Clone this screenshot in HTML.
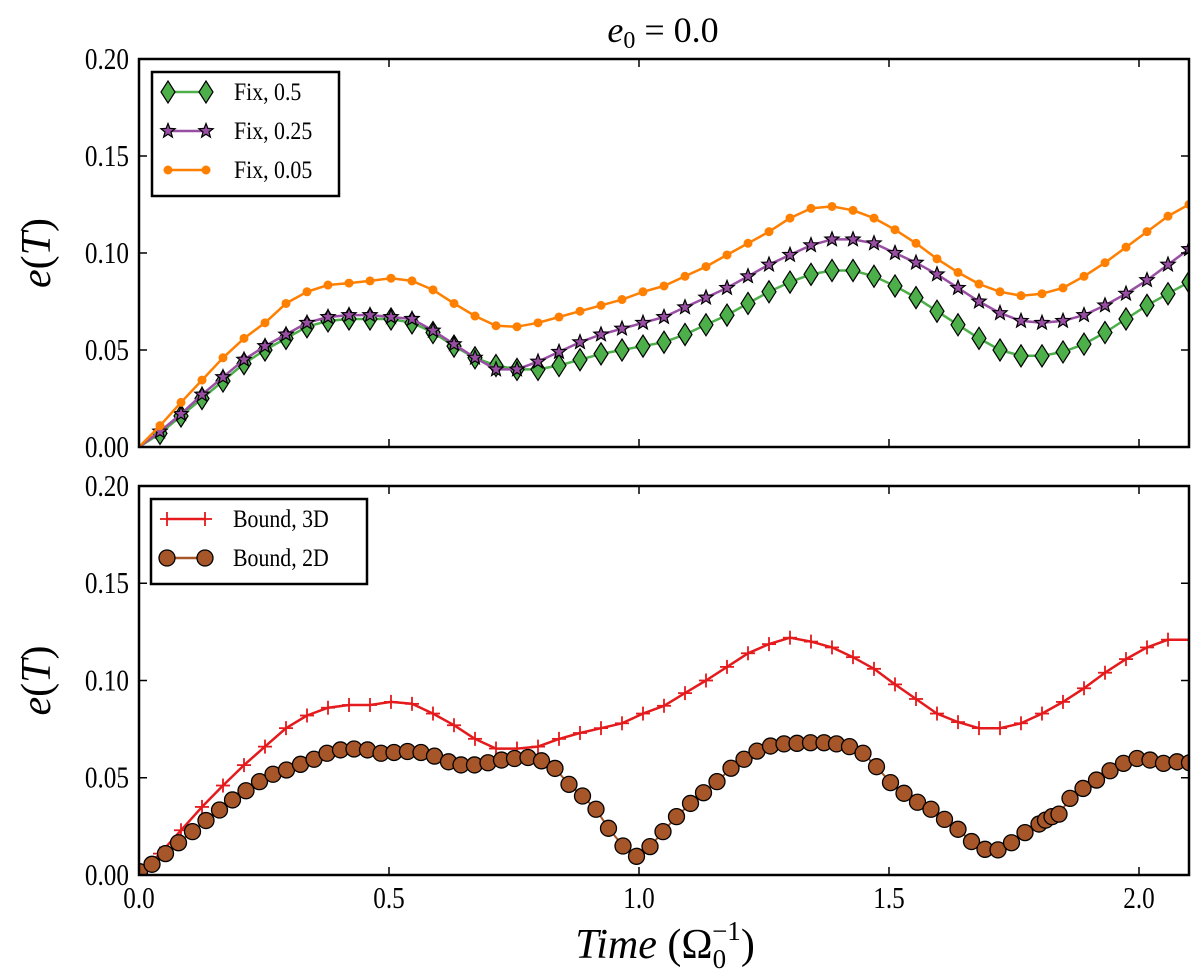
<!DOCTYPE html>
<html><head><meta charset="utf-8"><style>
body{margin:0;background:#fff}
svg{display:block}
text{font-family:"Liberation Serif",serif;fill:#000}
</style></head><body>
<svg id="c" width="1200" height="980" xmlns="http://www.w3.org/2000/svg"></svg>
<script>
const xTicks=[0.0,0.5,1.0,1.5,2.0];
const xTickLabels=["0.0","0.5","1.0","1.5","2.0"];
const yTicks=[0,0.05,0.10,0.15,0.20];
const yTickLabels=["0.00","0.05","0.10","0.15","0.20"];
const stepT=0.042;
const fix05=[0,.007,.016,.025,.034,.043,.050,.056,.062,.065,.066,.066,.066,.064,.059,.052,.046,.042,.040,.040,.042,.045,.048,.050,.052,.054,.058,.063,.068,.074,.080,.085,.089,.091,.091,.088,.083,.077,.070,.063,.056,.050,.047,.047,.049,.053,.059,.066,.073,.079,.085];
const fix025=[0,.008,.017,.027,.036,.045,.052,.058,.064,.067,.068,.068,.067,.066,.060,.053,.046,.040,.040,.044,.049,.054,.058,.061,.064,.067,.072,.077,.082,.088,.094,.099,.104,.107,.107,.105,.100,.095,.089,.082,.075,.069,.065,.064,.065,.068,.073,.079,.086,.094,.102];
const fix005=[0,.011,.023,.0345,.046,.056,.064,.074,.080,.0835,.0845,.0856,.087,.0856,.081,.074,.0675,.0625,.062,.064,.067,.070,.073,.076,.080,.083,.088,.093,.099,.105,.111,.118,.123,.124,.122,.118,.112,.105,.097,.090,.084,.080,.078,.079,.082,.088,.095,.103,.111,.119,.125];
const bound3D=[0,.011,.023,.035,.046,.0565,.066,.0755,.082,.086,.0874,.0874,.089,.088,.083,.077,.070,.065,.065,.066,.070,.073,.0755,.078,.083,.087,.0935,.100,.107,.114,.1187,.122,.120,.117,.112,.106,.098,.0905,.083,.0786,.0755,.0755,.078,.083,.089,.096,.104,.111,.117,.121,.121];
const bound2DT=[.001,.026,.053,.079,.107,.134,.161,.187,.214,.241,.268,.295,.323,.350,.376,.403,.430,.457,.484,.510,.537,.564,.591,.619,.644,.671,.698,.725,.751,.778,.805,.832,.860,.887,.914,.939,.968,.995,1.022,1.048,1.075,1.103,1.129,1.156,1.184,1.21,1.236,1.263,1.29,1.316,1.343,1.37,1.395,1.421,1.448,1.475,1.503,1.53,1.557,1.584,1.611,1.638,1.665,1.692,1.718,1.745,1.772,1.80,1.813,1.826,1.84,1.862,1.888,1.915,1.942,1.969,1.996,2.022,2.049,2.076,2.101];
const bound2D=[.0017,.0055,.011,.0166,.0223,.028,.0334,.0386,.0433,.048,.0518,.054,.0569,.0595,.0626,.0643,.0648,.0643,.0626,.063,.0635,.063,.0611,.0582,.0566,.0566,.0577,.0591,.0599,.0604,.0587,.0548,.0466,.0406,.0338,.024,.0149,.0096,.0146,.0223,.030,.0368,.0423,.048,.0549,.0595,.0637,.0663,.0674,.0677,.068,.068,.0674,.066,.0626,.0557,.0475,.042,.0374,.0338,.0286,.0235,.0172,.0132,.0129,.0166,.0218,.0262,.0282,.030,.0313,.0394,.0445,.0488,.0536,.0574,.0599,.0591,.0574,.0582,.0577];

const NS="http://www.w3.org/2000/svg";
const svg=document.getElementById('c');
function mk(tag,attrs,parent){const e=document.createElementNS(NS,tag);for(const k in attrs)e.setAttribute(k,attrs[k]);(parent||svg).appendChild(e);return e;}
const X0=139,X1=1189;
const xs=t=>X0+(t/2.1)*(X1-X0);
function panel(top,bot,name){
  const ys=v=>bot-(v/0.2)*(bot-top);
  const g=mk('g',{});
  
  
  const cp=mk('clipPath',{id:'clip'+name},g);
  mk('rect',{x:X0,y:top,width:X1-X0,height:bot-top},cp);
  const plot=mk('g',{'clip-path':'url(#clip'+name+')'},g);
  return {g,plot,ys,top,bot};
}
function frame(p,showX){
  const fr=mk('rect',{x:X0,y:p.top,width:X1-X0,height:p.bot-p.top,fill:'none',stroke:'#000','stroke-width':2.5},p.g);
  
  
  xTicks.forEach((t,i)=>{
    const x=xs(t);
    mk('line',{x1:x,x2:x,y1:p.bot,y2:p.bot-8,stroke:'#000','stroke-width':1.5},p.g);
    mk('line',{x1:x,x2:x,y1:p.top,y2:p.top+8,stroke:'#000','stroke-width':1.5},p.g);
    if(showX){const tx=mk('text',{x:x,y:908,'font-size':28,'text-anchor':'middle',transform:`translate(${x},908) scale(0.9,1.1) translate(${-x},-908)`},p.g);tx.textContent=xTickLabels[i];
      
      }
  });
  yTicks.forEach((v,i)=>{
    const y=p.ys(v);
    mk('line',{x1:X0,x2:X0+8,y1:y,y2:y,stroke:'#000','stroke-width':1.5},p.g);
    mk('line',{x1:X1,x2:X1-8,y1:y,y2:y,stroke:'#000','stroke-width':1.5},p.g);
    const ty=y+10;
    const tx=mk('text',{x:X0-10,y:ty,'font-size':28,'text-anchor':'end',transform:`translate(${X0-10},${ty}) scale(0.9,1.1) translate(${-(X0-10)},${-ty})`},p.g);tx.textContent=yTickLabels[i];
    
    
  });
  const yl=mk('text',{x:0,y:0,'font-size':42,'text-anchor':'middle',transform:'translate(50,'+((p.top+p.bot)/2)+') rotate(-90)'},p.g);
  yl.innerHTML='<tspan font-style="italic">e</tspan>(<tspan font-style="italic">T</tspan>)';
  
  
}
function marker(type,x,y,color,parent){
  if(type==='diamond')mk('polygon',{points:`${x},${y-11} ${x+7},${y} ${x},${y+11} ${x-7},${y}`,fill:color,stroke:'#000','stroke-width':1.2},parent);
  else if(type==='star'){let pts=[];for(let k=0;k<10;k++){const r=k%2?3.2:7.5,a=-Math.PI/2+k*Math.PI/5;pts.push((x+r*Math.cos(a)).toFixed(1)+','+(y+r*Math.sin(a)).toFixed(1));}
    mk('polygon',{points:pts.join(' '),fill:color,stroke:'#000','stroke-width':1.2},parent);}
  else if(type==='dot')mk('circle',{cx:x,cy:y,r:4.5,fill:color},parent);
  else if(type==='circle')mk('circle',{cx:x,cy:y,r:8,fill:color,stroke:'#000','stroke-width':1.3},parent);
  else if(type==='plus'){mk('line',{x1:x-7,x2:x+7,y1:y,y2:y,stroke:color,'stroke-width':1.8},parent);mk('line',{x1:x,x2:x,y1:y-7,y2:y+7,stroke:color,'stroke-width':1.8},parent);}
}
function series(p,ts,vals,color,type,name,lw){
  const g=mk('g',{},p.plot);
  
  
  const pts=vals.map((v,i)=>xs(ts[i]).toFixed(1)+','+p.ys(v).toFixed(1));
  mk('polyline',{points:pts.join(' '),fill:'none',stroke:color,'stroke-width':lw||2.5,'stroke-linejoin':'round'},g);
  vals.forEach((v,i)=>{ if(i===0&&type!=='circle')return; marker(type,xs(ts[i]),p.ys(v),color,g);});
}
function legend(p,x,y,w,h,items){
  const g=mk('g',{},p.g);
  
  
  mk('rect',{x:x,y:y,width:w,height:h,fill:'#fff',stroke:'#000','stroke-width':2.5},g);
  items.forEach((it,i)=>{
    const e=mk('g',{},g);
    
    
    const yy=y+20+i*39;
    mk('line',{x1:x+16,x2:x+54,y1:yy,y2:yy,stroke:it.c,'stroke-width':2.5},e);
    marker(it.m,x+16,yy,it.c,e);marker(it.m,x+54,yy,it.c,e);
    const tx=x+82,ty=yy+8;
    const t=mk('text',{x:tx,y:ty,'font-size':23,transform:`translate(${tx},${ty}) scale(0.95,1.08) translate(${-tx},${-ty})`},e);t.textContent=it.l;
  });
}
const tIdx=fix05.map((_,i)=>i*stepT);
const p1=panel(59,447,'top-panel');
series(p1,tIdx,fix05,'#4daf4a','diamond','series-fix-0.5');
series(p1,tIdx,fix025,'#984ea3','star','series-fix-0.25');
series(p1,tIdx,fix005,'#ff7f00','dot','series-fix-0.05');
frame(p1,false);
legend(p1,152,72,187,124,[{l:'Fix, 0.5',c:'#4daf4a',m:'diamond'},{l:'Fix, 0.25',c:'#984ea3',m:'star'},{l:'Fix, 0.05',c:'#ff7f00',m:'dot'}]);
const p2=panel(486,875,'bottom-panel');
series(p2,tIdx,bound3D,'#e41a1c','plus','series-bound-3d',2.5);
series(p2,bound2DT,bound2D,'#a65628','circle','series-bound-2d',2);
frame(p2,true);
legend(p2,151,499,216,85,[{l:'Bound, 3D',c:'#e41a1c',m:'plus'},{l:'Bound, 2D',c:'#a65628',m:'circle'}]);
const title=mk('text',{x:663,y:42,'font-size':36,'text-anchor':'middle'});
title.innerHTML='<tspan font-style="italic">e</tspan><tspan font-size="24" dy="6">0</tspan><tspan dy="-6"> = 0.0</tspan>';


const xl=mk('text',{x:665,y:958,'font-size':42,'text-anchor':'middle'});
xl.innerHTML='<tspan font-style="italic">Time</tspan> (Ω<tspan font-size="27" dy="10">0</tspan><tspan font-size="27" dx="-14" dy="-28">−1</tspan><tspan dy="18">)</tspan>';


</script>
</body></html>
